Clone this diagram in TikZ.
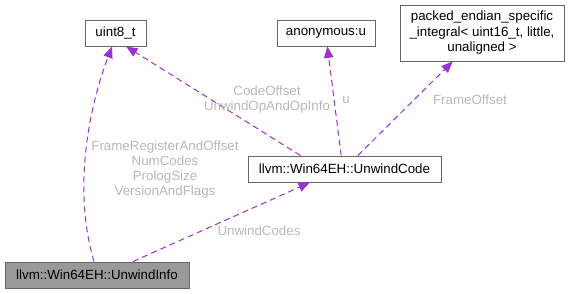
\documentclass[tikz,border=0pt]{standalone}
\usepackage{fontspec}
\setmainfont{Liberation Sans}
\usetikzlibrary{arrows.meta,positioning,calc}

\definecolor{edgepurple}{HTML}{9A32CD}
\definecolor{boxline}{HTML}{666666}
\definecolor{boxfill}{HTML}{999999}
\definecolor{lblgray}{HTML}{B8B8B8}

\begin{document}
\begin{tikzpicture}[x=0.75pt, y=0.75pt,
    cls/.style={draw=boxline, line width=0.75pt, fill=white, inner sep=0pt, minimum height=19.5pt, align=center, font=\fontsize{10}{11.6}\selectfont},
    rel/.style={draw=edgepurple, line width=0.75pt, dash pattern=on 4.5pt off 3pt, -{Triangle[length=8.5pt,width=7pt]}},
    lbl/.style={text=lblgray, inner sep=0pt, align=center, font=\fontsize{10}{11.2}\selectfont}
]
\useasboundingbox (0,0) rectangle (570,-293);

% classes
\node[cls, minimum width=45.75pt] (uint) at (115.5,-33) {uint8\_t};
\node[cls, minimum width=73.5pt] (anon) at (326,-33) {anonymous:u};
\node[cls, minimum width=123pt, minimum height=42pt] (packed) at (482,-33) {packed\_endian\_specific\\\_integral< uint16\_t, little,\\unaligned >};
\node[cls, minimum width=144.75pt] (code) at (344.5,-169) {llvm::Win64EH::UnwindCode};
\node[cls, minimum width=138pt, fill=boxfill] (info) at (97,-275) {llvm::Win64EH::UnwindInfo};

% members
\draw[rel] ([xshift=-2.25pt]info.north) .. controls +(-20,67) and +(-26,-69) .. ([xshift=-2.6pt]uint.south);
\draw[rel] ([xshift=27pt]info.north) -- ([xshift=-26pt]code.south);
\draw[rel] ([xshift=-33pt]code.north) -- ([xshift=8pt]uint.south);
\draw[rel] ([xshift=-2.5pt]code.north) -- ([xshift=1pt]anon.south);
\draw[rel] ([xshift=10pt]code.north) -- ([xshift=-22pt]packed.south);

% member names
\node[lbl] (lregs) at (165,-169.5) {FrameRegisterAndOffset\\NumCodes\\PrologSize\\VersionAndFlags};
\node[lbl] (lcodes) at (259,-231) {UnwindCodes};
\node[lbl] (loffs) at (267,-100) {CodeOffset\\UnwindOpAndOpInfo};
\node[lbl] (lu) at (346,-100) {u};
\node[lbl] (lframe) at (470,-100) {FrameOffset};
\end{tikzpicture}
\end{document}
